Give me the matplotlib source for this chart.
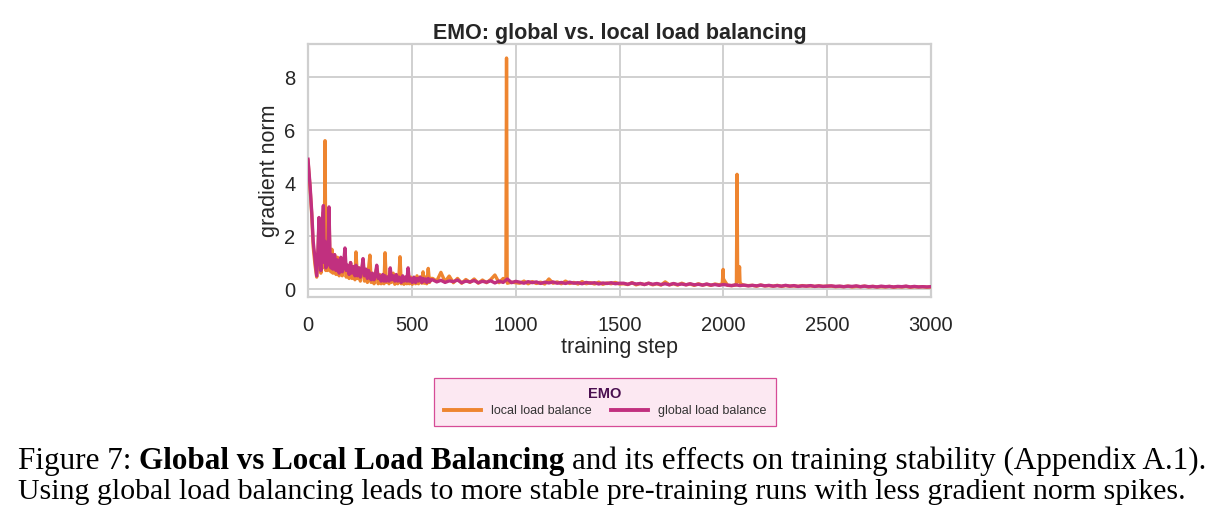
import numpy as np
import matplotlib
matplotlib.use("Agg")
import matplotlib.pyplot as plt
from matplotlib.lines import Line2D

plt.rcParams['font.family'] = ['Liberation Sans', 'DejaVu Sans']

# ---------------- data ----------------
early_steps = [0, 10, 18, 25, 34, 42, 48, 53, 58, 62, 66, 70, 74, 78, 82, 86, 90, 95, 101, 106,
               110, 115, 120, 128, 135, 142, 150, 158, 165, 172, 178, 184, 190, 198, 205, 212, 220, 226, 231, 238,
               245, 252, 258, 265, 272, 280, 286, 292, 298, 304, 310, 318, 325, 331, 338, 345, 352, 360, 366, 371,
               377, 384, 390, 396, 402, 410, 418, 425, 432, 438, 443, 449, 456, 462, 470, 476, 482, 488, 495, 502,
               510, 518, 525, 532, 540, 548, 554, 560, 566, 572, 579, 585, 592]

local_early = [4.85, 3.8, 2.8, 1.6, 0.9, 0.45, 1.3, 2.6, 1.0, 0.6,
               1.5, 2.2, 2.9, 0.8, 5.6, 0.7, 1.2, 0.7, 2.9, 1.0,
               0.65, 1.5, 0.6, 1.3, 0.55, 1.2, 0.5, 1.1, 0.5, 0.9,
               1.3, 0.45, 0.8, 0.4, 1.0, 0.4, 0.7, 0.35, 1.4, 0.4,
               0.8, 0.3, 0.7, 1.0, 0.3, 0.6, 0.25, 0.8, 1.28, 0.25,
               0.5, 0.2, 0.6, 0.8, 0.2, 0.55, 0.2, 0.5, 0.2, 1.37,
               0.25, 0.45, 0.2, 0.7, 0.25, 0.6, 0.18, 0.5, 0.2, 0.5,
               1.22, 0.2, 0.4, 0.18, 0.45, 0.2, 0.6, 0.2, 0.45, 0.18,
               0.4, 0.2, 0.5, 0.2, 0.45, 0.22, 0.65, 0.22, 0.45, 0.2,
               0.78, 0.25, 0.4]

global_early = [4.9, 3.9, 2.9, 1.8, 1.1, 0.5, 1.5, 2.7, 1.2, 0.7,
                1.8, 2.5, 3.15, 1.0, 1.8, 0.8, 1.5, 0.9, 3.1, 1.2,
                0.8, 1.3, 0.75, 1.3, 0.7, 1.1, 0.6, 1.2, 0.65, 1.0,
                1.55, 0.7, 0.9, 0.55, 1.0, 0.6, 0.85, 0.5, 0.9, 0.5,
                0.8, 0.45, 0.7, 1.15, 0.5, 0.75, 0.4, 0.7, 0.5, 0.35,
                0.6, 0.35, 0.55, 0.9, 0.4, 0.5, 0.3, 0.55, 0.3, 0.5,
                0.3, 0.45, 0.3, 0.8, 0.35, 0.5, 0.3, 0.55, 0.3, 0.45,
                0.4, 0.25, 0.5, 0.3, 0.45, 0.3, 0.8, 0.3, 0.4, 0.25,
                0.45, 0.25, 0.4, 0.3, 0.45, 0.25, 0.4, 0.3, 0.38, 0.25,
                0.4, 0.28, 0.35]

# later values logged every 20 steps, in chunks (start step, values)
local_late = [
    (600, [0.40, 0.30, 0.63, 0.28, 0.49, 0.24, 0.40, 0.22, 0.36, 0.25, 0.38, 0.22, 0.34, 0.24, 0.36, 0.53,
           0.24, 0.40, 0.22, 0.26, 0.24]),
    (1020, [0.22, 0.30, 0.20, 0.28, 0.21, 0.26, 0.19, 0.38, 0.22, 0.27, 0.20, 0.30, 0.21, 0.25, 0.19, 0.28,
            0.20, 0.24, 0.19, 0.26, 0.18, 0.23, 0.20, 0.25, 0.19]),
    (1520, [0.20, 0.17, 0.24, 0.16, 0.21, 0.17, 0.22, 0.16, 0.20, 0.15, 0.27, 0.16, 0.20, 0.15, 0.22, 0.16,
            0.19, 0.14, 0.20, 0.15, 0.18, 0.14, 0.19, 0.16, 0.40]),
    (2020, [0.14, 0.13, 0.15, 0.30, 0.14, 0.13, 0.14, 0.11, 0.15, 0.12, 0.13, 0.11, 0.14, 0.10, 0.13, 0.11,
            0.12, 0.10, 0.13, 0.11, 0.12, 0.10, 0.12, 0.10, 0.11]),
    (2520, [0.11, 0.09, 0.10, 0.09, 0.11, 0.08, 0.10, 0.09, 0.11, 0.08, 0.10, 0.08, 0.09, 0.08, 0.10, 0.07,
            0.09, 0.08, 0.10, 0.07, 0.09, 0.08, 0.09, 0.07, 0.08]),
]

global_late = [
    (600, [0.35, 0.27, 0.33, 0.25, 0.31, 0.28, 0.34, 0.24, 0.30, 0.27, 0.32, 0.24, 0.29, 0.26, 0.31, 0.23,
           0.30, 0.25, 0.38, 0.24, 0.29]),
    (1020, [0.26, 0.22, 0.28, 0.24, 0.27, 0.21, 0.26, 0.23, 0.27, 0.22, 0.25, 0.21, 0.26, 0.22, 0.24, 0.20,
            0.25, 0.22, 0.24, 0.19, 0.23, 0.21, 0.24, 0.20, 0.22]),
    (1520, [0.22, 0.18, 0.23, 0.19, 0.21, 0.17, 0.22, 0.18, 0.21, 0.17, 0.20, 0.16, 0.21, 0.17, 0.19, 0.16,
            0.20, 0.16, 0.18, 0.15, 0.19, 0.15, 0.17, 0.14, 0.17]),
    (2020, [0.15, 0.13, 0.16, 0.13, 0.15, 0.12, 0.14, 0.12, 0.15, 0.12, 0.14, 0.11, 0.13, 0.11, 0.14, 0.11,
            0.13, 0.10, 0.12, 0.11, 0.13, 0.10, 0.12, 0.10, 0.11]),
    (2520, [0.12, 0.10, 0.11, 0.09, 0.11, 0.10, 0.12, 0.09, 0.11, 0.09, 0.10, 0.08, 0.11, 0.09, 0.10, 0.08,
            0.10, 0.09, 0.11, 0.08, 0.10, 0.08, 0.09, 0.08, 0.09]),
]

# spikes of the local-load-balance run
local_spike_steps = [953, 956, 959, 1995, 1999, 2003, 2007, 2063, 2066, 2069, 2074, 2078, 2082]
local_spike_norm = [0.35, 8.72, 0.30, 0.20, 0.74, 0.35, 0.30, 0.20, 4.33, 0.35, 0.30, 0.84, 0.20]

series_labels = ["local load balance", "global load balance"]
series_colors = ["#EE8530", "#C1307F"]
x_ticks = [0, 500, 1000, 1500, 2000, 2500, 3000]
y_ticks = [0, 2, 4, 6, 8]


def assemble(steps, early, late, extra_steps=(), extra_vals=()):
    s = list(steps)
    v = list(early)
    for start, vals in late:
        for i, val in enumerate(vals):
            s.append(start + 20 * i)
            v.append(val)
    s += list(extra_steps)
    v += list(extra_vals)
    s = np.array(s, dtype=float)
    v = np.array(v, dtype=float)
    order = np.argsort(s, kind="stable")
    return s[order], v[order]


loc_x, loc_y = assemble(early_steps, local_early, local_late, local_spike_steps, local_spike_norm)
glo_x, glo_y = assemble(early_steps, global_early, global_late)

# ---------------- figure ----------------
W, H = 1224, 531
fig = plt.figure(figsize=(W / 100, H / 100), dpi=100)
fig.patch.set_facecolor("white")
ax = fig.add_axes([308 / W, 1 - 297 / H, (931 - 308) / W, (297 - 44) / H])

ax.plot(loc_x, loc_y, color=series_colors[0], lw=2.4, zorder=3)
ax.plot(glo_x, glo_y, color=series_colors[1], lw=2.4, zorder=4)

ax.set_xlim(0, 3000)
ax.set_ylim(-0.3, 9.25)
ax.set_xticks(x_ticks)
ax.set_yticks(y_ticks)
ax.grid(True, color="#d0d0d0", lw=1.4)
ax.set_axisbelow(True)
for sp in ax.spines.values():
    sp.set_color("#cfcfcf")
    sp.set_linewidth(1.6)
ax.tick_params(axis="x", length=0, labelsize=14.5, colors="#262626", pad=14)
ax.tick_params(axis="y", length=0, labelsize=14.5, colors="#262626", pad=9)
ax.set_xlabel("training step", fontsize=15.5, color="#262626", labelpad=1)
ax.set_ylabel("gradient norm", fontsize=15.5, color="#262626", labelpad=3)
ax.set_title("EMO: global vs. local load balancing", fontsize=15.5, fontweight="bold",
             color="#262626", pad=3)

handles = [Line2D([0], [0], color=c, lw=2.8) for c in series_colors]
leg = fig.legend(handles, series_labels, loc="center",
                 bbox_to_anchor=(605 / W, 1 - 402 / H), ncol=2, fontsize=9,
                 title="EMO", title_fontproperties={"weight": "bold", "size": 10.5},
                 handlelength=3.0, columnspacing=1.5, frameon=True, fancybox=False,
                 borderpad=0.75, labelspacing=0.3, borderaxespad=0)
leg.get_title().set_color("#4A0F50")
frame = leg.get_frame()
frame.set_facecolor("#FCE8F2")
frame.set_edgecolor("#D64C97")
frame.set_linewidth(0.9)
frame.set_alpha(1.0)
for t in leg.get_texts():
    t.set_color("#333333")

# ---------------- caption ----------------
serif = ["Liberation Serif", "DejaVu Serif"]
renderer = fig.canvas.get_renderer()


def text_w(s, weight, size):
    t = fig.text(0, 0, s, fontsize=size, fontweight=weight, family=serif)
    w = t.get_window_extent(renderer).width
    t.remove()
    return w


line1 = [("Figure 7:", "normal"), ("Global vs Local Load Balancing", "bold"),
         ("and its effects on training stability (Appendix A.1).", "normal")]
line2 = [("Using global load balancing leads to more stable pre-training runs with less gradient norm spikes.",
          "normal")]


def fit_size(pieces, target):
    base = 16.0
    sp = text_w("a b", "normal", base) - text_w("ab", "normal", base)
    tot = sum(text_w(s, w, base) for s, w in pieces) + sp * (len(pieces) - 1)
    return base * target / tot


def draw_line(pieces, x0, y_px, size):
    sp_w = text_w("a b", "normal", size) - text_w("ab", "normal", size)
    x = x0
    for s, w in pieces:
        fig.text(x / W, 1 - y_px / H, s, fontsize=size, fontweight=w, family=serif,
                 va="baseline", ha="left", color="black")
        x += text_w(s, w, size) + sp_w


draw_line(line1, 18, 469, fit_size(line1, 1192))
draw_line(line2, 18, 499, fit_size(line2, 1168))

fig.savefig("out.png", dpi=100, facecolor="white")
